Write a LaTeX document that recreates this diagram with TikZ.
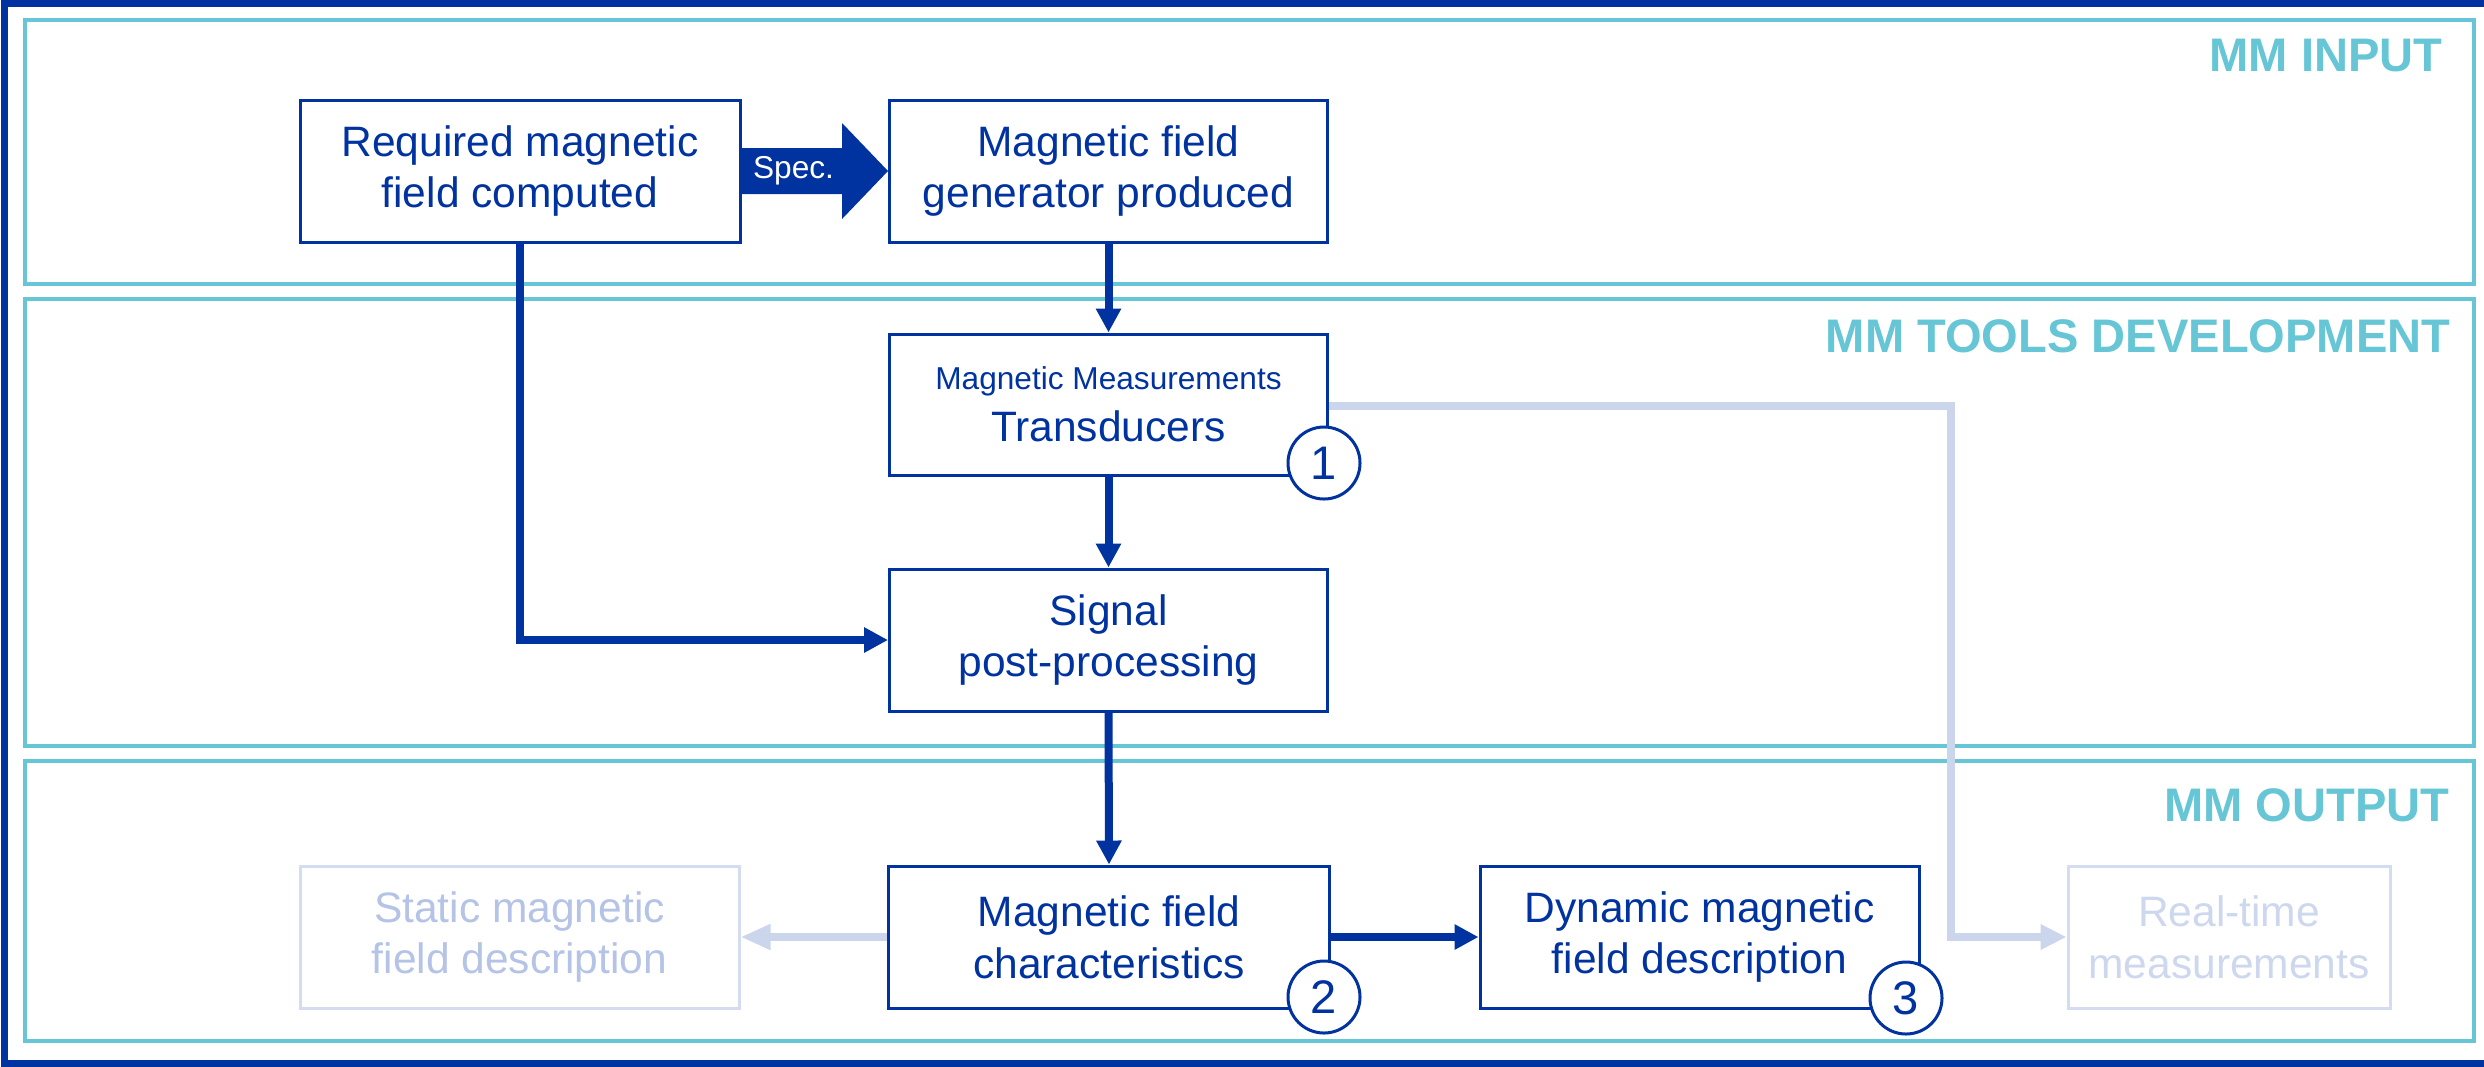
\documentclass[tikz,border=0pt]{standalone}
\usepackage{fontspec}
\setmainfont{Liberation Sans}
\usetikzlibrary{arrows.meta,calc}
\definecolor{mmblue}{HTML}{0033A0}
\definecolor{mmcyan}{HTML}{66C6D5}
\definecolor{mmpale}{HTML}{CBD5EC}
\definecolor{mmpaletext}{HTML}{B4C3E6}
\definecolor{mmfaint}{HTML}{D3DCF0}
\definecolor{mmfainttext}{HTML}{CDD7EE}

\begin{document}
\begin{tikzpicture}[x=0.1mm,y=-0.1mm,
  panel/.style={draw=mmcyan, line width=0.4mm},
  paneltitle/.style={anchor=base east, text=mmcyan, inner sep=0pt,
    font=\fontsize{13.4}{15}\selectfont\bfseries},
  stepbox/.style={draw=mmblue, line width=0.3mm, fill=white, text=mmblue,
    minimum width=44mm, minimum height=14.2mm, align=center, inner sep=0pt,
    font=\fontsize{12.1}{14.7}\selectfont},
  ghostbox/.style={stepbox, draw=mmfaint, text=mmpaletext},
  flow/.style={draw=mmblue, line width=0.8mm, -{Triangle[length=2.4mm,width=2.4mm]}},
  paleflow/.style={draw=mmpale, line width=0.8mm, -{Triangle[length=2.6mm,width=2.4mm]}},
  badge/.style={circle, draw=mmblue, line width=0.3mm, fill=white, text=mmblue,
    minimum size=7.2mm, inner sep=0pt, font=\fontsize{13.4}{15}\selectfont}
]
\useasboundingbox (0,0) rectangle (2484,1066);

% outer frame (open on the right)
\draw[mmblue, line width=0.7mm] (2500,3.5) -- (4,3.5) -- (4,1063) -- (2500,1063);

% section panels
\draw[panel] (25,19.5) rectangle (2474,283.5);
\draw[panel] (25,299) rectangle (2474,746);
\draw[panel] (25,761) rectangle (2474,1041);

\node[paneltitle] (tin)  at (2443,71)  {MM INPUT};
\node[paneltitle] (ttool) at (2451,352) {MM TOOLS DEVELOPMENT};
\node[paneltitle] (tout) at (2450,821) {MM OUTPUT};

% bend of the pale connector to real-time measurements
\coordinate (rtbend) at (1951,406);

% process boxes
\node[stepbox] (req) at (520,171) {Required magnetic\\field computed};
\node[stepbox, minimum width=43.8mm] (gen) at (1108.5,171) {Magnetic field\\generator produced};
\node[stepbox, minimum width=43.8mm, minimum height=14.1mm] (trans) at (1108.5,404.5)
  {{\fontsize{9}{13.9}\selectfont Magnetic Measurements}\\Transducers};
\node[stepbox, minimum width=43.8mm] (sig) at (1108.5,640) {Signal\\post-processing};
\node[stepbox, minimum width=44.1mm] (chr) at (1109,937) {Magnetic field\\characteristics};
\node[stepbox, minimum width=43.9mm] (dyn) at (1699.5,937) {Dynamic magnetic\\field description};
\node[ghostbox, minimum width=43.9mm] (stat) at (519.5,937) {Static magnetic\\field description};
\node[ghostbox, minimum width=32.2mm, text=mmfainttext] (rt) at (2229,937) {Real-time\\measurements};

% specification arrow
\fill[mmblue] ($(req.east)+(0,-23)$) -- ($(gen.west)+(-46,-23)$) -- ($(gen.west)+(-46,-48)$)
  -- (gen.west) -- ($(gen.west)+(-46,48)$) -- ($(gen.west)+(-46,23)$) -- ($(req.east)+(0,23)$) -- cycle;
\node[text=white, inner sep=0pt, font=\fontsize{9}{11}\selectfont] (spec) at ($(req.east)+(52,0)$) {Spec.};

% connectors
\draw[flow] (gen.south) -- (trans.north);
\draw[flow] (trans.south) -- (sig.north);
\draw[flow] (req.south) |- (sig.west);
\draw[flow] (sig.south) -- (chr.north);
\draw[flow] (chr.east) -- (dyn.west);
\draw[paleflow, -{Triangle[length=3mm,width=2.4mm]}] (chr.west) -- (stat.east);
\draw[paleflow] (trans.east |- rtbend) -- (rtbend) |- (rt.west);

% numbered markers
\node[badge] (n1) at (1324,463) {1};
\node[badge] (n2) at (1324,997) {2};
\node[badge] (n3) at (1906,998) {3};
\end{tikzpicture}
\end{document}
